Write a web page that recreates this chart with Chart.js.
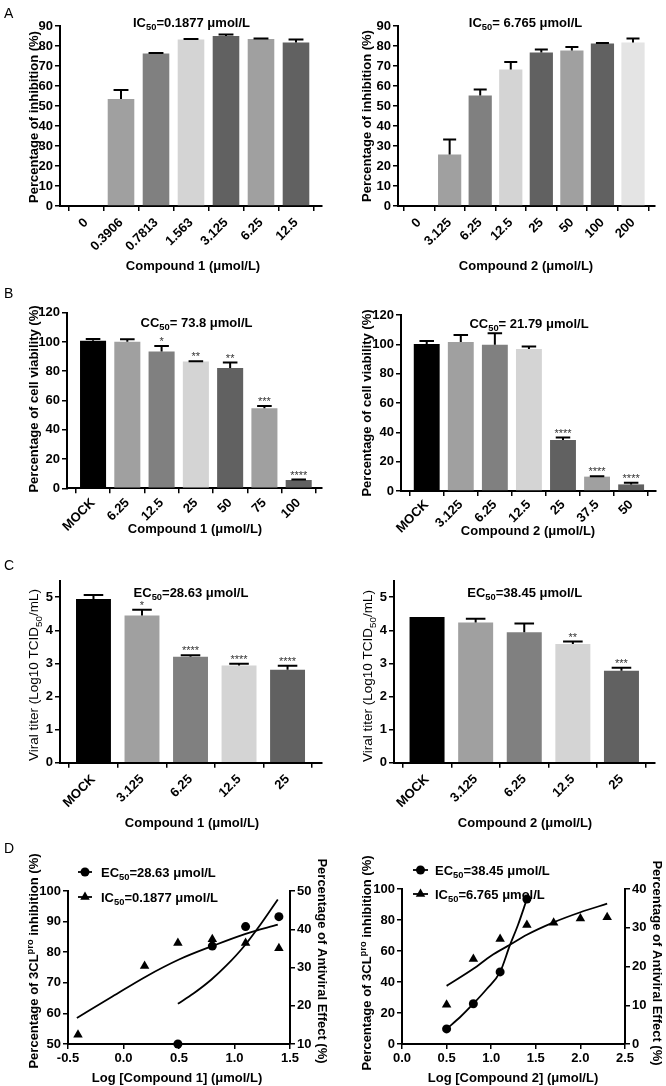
<!DOCTYPE html>
<html><head><meta charset="utf-8">
<script src="https://cdn.jsdelivr.net/npm/chart.js@4/dist/chart.umd.min.js"></script>
<style>
html,body{margin:0;padding:0;background:#fff;}
#page{position:relative;width:666px;height:1086px;overflow:hidden;background:#fff;}
canvas{position:absolute;}
</style></head><body><div id="page"></div>
<script>
// ================= DATA =================
// Panel A – 3CLpro inhibition
const catA1 = ['0','0.3906','0.7813','1.563','3.125','6.25','12.5'];
const valA1 = [0, 53.5, 76.3, 83.3, 85.0, 83.5, 81.8];
const errA1 = [0, 4.5, 0.2, 0.2, 0.8, 0.2, 1.5];
const catA2 = ['0','3.125','6.25','12.5','25','50','100','200'];
const valA2 = [0, 25.8, 55.3, 68.3, 76.8, 77.8, 81.2, 81.8];
const errA2 = [0, 7.5, 3.0, 3.7, 1.5, 1.7, 0.3, 2.0];
// Panel B – cell viability
const catB1 = ['MOCK','6.25','12.5','25','50','75','100'];
const valB1 = [100.9, 100.2, 93.4, 86.6, 82.2, 54.7, 5.7];
const errB1 = [1.1, 1.6, 3.9, 0.3, 3.7, 1.6, 0.3];
const sigB1 = ['', '', '*', '**', '**', '***', '****'];
const catB2 = ['MOCK','3.125','6.25','12.5','25','37.5','50'];
const valB2 = [100.2, 101.6, 99.8, 96.8, 34.8, 9.8, 4.5];
const errB2 = [2.1, 4.8, 7.7, 1.8, 1.6, 0.3, 1.2];
const sigB2 = ['', '', '', '', '****', '****', '****'];
// Panel C – viral titer
const catC1 = ['MOCK','3.125','6.25','12.5','25'];
const valC1 = [4.95, 4.45, 3.20, 2.94, 2.81];
const errC1 = [0.12, 0.17, 0.05, 0.05, 0.12];
const sigC1 = ['', '*', '****', '****', '****'];
const catC2 = ['MOCK','3.125','6.25','12.5','25'];
const valC2 = [4.40, 4.24, 3.94, 3.59, 2.78];
const errC2 = [0, 0.11, 0.27, 0.07, 0.09];
const sigC2 = ['', '', '', '**', '***'];
// Panel D – dose response (log concentration)
const logD1Tri = [-0.41, 0.19, 0.49, 0.80, 1.10, 1.40];
const inhD1 = [53.0, 75.5, 83.0, 84.2, 83.0, 81.3];
const logD1Cir = [0.49, 0.80, 1.10, 1.40];
const antiD1 = [10.0, 35.6, 40.7, 43.3];
const fitInhX1 = [-0.42, -0.1, 0.2, 0.5, 0.8, 1.1, 1.39];
const fitInhY1 = [58.5, 65.5, 72.0, 77.6, 82.0, 86.0, 89.0];
const fitAntX1 = [0.49, 0.63, 0.79, 0.93, 1.09, 1.25, 1.39];
const fitAntY1 = [20.5, 23.2, 26.8, 30.6, 35.7, 41.9, 47.8];

const logD2Tri = [0.5, 0.8, 1.1, 1.4, 1.7, 2.0, 2.3];
const inhD2 = [25.3, 54.8, 67.8, 76.7, 78.2, 81.0, 81.7];
const logD2Cir = [0.5, 0.8, 1.1, 1.4];
const antiD2 = [3.9, 10.4, 18.6, 37.4];
const fitInhX2 = [0.5, 0.8, 1.0, 1.21, 1.4, 1.7, 2.0, 2.3];
const fitInhY2 = [37.5, 48.5, 57.0, 64.0, 70.5, 78.5, 85.0, 90.5];
const fitAntX2 = [0.5, 0.65, 0.8, 0.95, 1.1, 1.21, 1.3, 1.4];
const fitAntY2 = [3.9, 6.9, 10.4, 14.2, 18.6, 25.5, 30.7, 37.4];

// ================= STYLE =================
const FAM = "'Liberation Sans', Arial, Helvetica, sans-serif";
Chart.defaults.font.family = FAM;
Chart.defaults.color = '#000';
const K = '#000000', G1 = '#a0a0a0', G2 = '#808080', G3 = '#d4d4d4', G4 = '#616161', G5 = '#e4e4e4';
const page = document.getElementById('page');

function rich(ctx, segs, x, y, o) {
  const size = o.size || 13, weight = o.weight || 'bold', rot = o.rot || 0, align = o.align || 'center';
  ctx.save();
  ctx.translate(x, y); ctx.rotate(rot);
  ctx.fillStyle = o.color || '#000';
  ctx.textAlign = 'left'; ctx.textBaseline = 'alphabetic';
  const parts = segs.map(s => {
    const small = s[1] === 'sub' || s[1] === 'sup';
    const sz = small ? size * 0.72 : size;
    ctx.font = `${weight} ${sz}px ${FAM}`;
    return { t: s[0], mode: s[1], sz, w: ctx.measureText(s[0]).width };
  });
  const total = parts.reduce((a, p) => a + p.w, 0);
  let cx = align === 'center' ? -total / 2 : align === 'right' ? -total : 0;
  const base = size * 0.36;
  for (const p of parts) {
    ctx.font = `${weight} ${p.sz}px ${FAM}`;
    const dy = p.mode === 'sub' ? size * 0.28 : p.mode === 'sup' ? -size * 0.38 : 0;
    ctx.fillText(p.t, cx, base + dy);
    cx += p.w;
  }
  ctx.restore();
}

function makeCanvas(rect) {
  const cv = document.createElement('canvas');
  cv.width = rect.W; cv.height = rect.H;
  cv.style.left = rect.L + 'px'; cv.style.top = rect.T + 'px';
  cv.style.width = rect.W + 'px'; cv.style.height = rect.H + 'px';
  page.appendChild(cv);
  return cv;
}

const axisGrid = { drawOnChartArea: false, drawTicks: true, tickLength: 5, color: '#000', lineWidth: 1.5 };
const axisBorder = { display: true, color: '#000', width: 2 };
const tickFont = { size: 13, weight: 'bold' };
const rotFont = { size: 13, weight: 'bold' };

function barChart(c) {
  const { rect, plot, cats, vals, errs, sigs, colors, yMax, yStep, xMin, xMax, texts } = c;
  const cv = makeCanvas(rect);
  const extra = {
    id: 'extra',
    afterDatasetsDraw(chart) {
      const ctx = chart.ctx, ys = chart.scales.y;
      chart.getDatasetMeta(0).data.forEach((bar, i) => {
        const v = vals[i]; if (!v) return;
        const e = errs[i] || 0;
        const topY = ys.getPixelForValue(v), capY = ys.getPixelForValue(v + e);
        ctx.save(); ctx.strokeStyle = '#000'; ctx.lineWidth = 2;
        if (e > 0) {
          const cw = bar.width * 0.56;
          ctx.beginPath();
          ctx.moveTo(bar.x, topY); ctx.lineTo(bar.x, capY);
          ctx.moveTo(bar.x - cw / 2, capY); ctx.lineTo(bar.x + cw / 2, capY);
          ctx.stroke();
        }
        if (sigs && sigs[i]) {
          ctx.fillStyle = '#333'; ctx.font = `11px ${FAM}`;
          ctx.textAlign = 'center'; ctx.textBaseline = 'alphabetic';
          ctx.fillText(sigs[i], bar.x, capY - 1);
        }
        ctx.restore();
      });
    },
    afterDraw(chart) { texts.forEach(t => rich(chart.ctx, t.segs, t.x - rect.L, t.y - rect.T, t)); }
  };
  new Chart(cv, {
    type: 'bar',
    data: { datasets: [{
      data: cats.map((cat, i) => ({ x: i, y: vals[i] })),
      backgroundColor: colors, borderWidth: 0,
      barPercentage: c.barPct || 0.76, categoryPercentage: 1
    }] },
    options: {
      responsive: false, animation: false, devicePixelRatio: 1,
      layout: { padding: { left: 0, top: plot.y0 - rect.T, right: rect.L + rect.W - plot.x1, bottom: 0 } },
      plugins: { legend: { display: false }, tooltip: { enabled: false }, title: { display: false } },
      scales: {
        x: {
          type: 'linear', min: xMin, max: xMax, offset: false,
          afterBuildTicks: s => { s.ticks = cats.map((cat, i) => ({ value: i })); },
          ticks: { callback: v => cats[v], minRotation: 45, maxRotation: 45, autoSkip: false, font: rotFont, color: '#000', padding: c.xPad != null ? c.xPad : 3 },
          grid: axisGrid, border: axisBorder,
          afterFit: s => { s.height = rect.T + rect.H - plot.y1; }
        },
        y: {
          min: 0, max: yMax,
          afterBuildTicks: s => { s.ticks = s.ticks.filter(t => Math.abs(t.value / yStep - Math.round(t.value / yStep)) < 1e-6); },
          ticks: { stepSize: yStep, font: tickFont, color: '#000', padding: 2 },
          grid: axisGrid, border: axisBorder,
          afterFit: s => { s.width = plot.x0 - rect.L; }
        }
      }
    },
    plugins: [extra]
  });
}

function tri(ctx, x, y, r) {
  ctx.beginPath();
  let rad = 0;
  ctx.moveTo(x + Math.sin(rad) * r, y - Math.cos(rad) * r);
  rad += Math.PI * 2 / 3; ctx.lineTo(x + Math.sin(rad) * r, y - Math.cos(rad) * r);
  rad += Math.PI * 2 / 3; ctx.lineTo(x + Math.sin(rad) * r, y - Math.cos(rad) * r);
  ctx.closePath(); ctx.fill();
}

function doseChart(c) {
  const { rect, plot, triX, triY, cirX, cirY, fiX, fiY, faX, faY, xMin, xMax, yMin, yMax, yStep, y2Min, y2Max, y2Step, legend, texts } = c;
  const cv = makeCanvas(rect);
  const extra = {
    id: 'extra',
    afterDraw(chart) {
      const ctx = chart.ctx;
      legend.forEach(l => {
        const y = l.y - rect.T, x0 = l.x0 - rect.L, x1 = l.x1 - rect.L;
        ctx.save(); ctx.strokeStyle = '#000'; ctx.fillStyle = '#000'; ctx.lineWidth = 1.8;
        ctx.beginPath(); ctx.moveTo(x0, y); ctx.lineTo(x1, y); ctx.stroke();
        if (l.marker === 'circle') { ctx.beginPath(); ctx.arc((x0 + x1) / 2, y, 4.5, 0, Math.PI * 2); ctx.fill(); }
        else tri(ctx, (x0 + x1) / 2, y, 5.5);
        ctx.restore();
        rich(ctx, l.segs, l.tx - rect.L, y, { size: 13, weight: 'bold', align: 'left' });
      });
      texts.forEach(t => rich(ctx, t.segs, t.x - rect.L, t.y - rect.T, t));
    }
  };
  const pts = (xs, ys) => xs.map((x, i) => ({ x, y: ys[i] }));
  new Chart(cv, {
    type: 'scatter',
    data: { datasets: [
      { data: pts(fiX, fiY), yAxisID: 'y', showLine: true, pointRadius: 0, borderColor: '#000', borderWidth: 1.8, cubicInterpolationMode: 'monotone', tension: 0.4, fill: false },
      { data: pts(faX, faY), yAxisID: 'y2', showLine: true, pointRadius: 0, borderColor: '#000', borderWidth: 1.8, cubicInterpolationMode: 'monotone', tension: 0.4, fill: false },
      { data: pts(triX, triY), yAxisID: 'y', pointStyle: 'triangle', pointRadius: 5.5, backgroundColor: '#000', borderColor: '#000', borderWidth: 0, clip: false },
      { data: pts(cirX, cirY), yAxisID: 'y2', pointStyle: 'circle', pointRadius: 4.5, backgroundColor: '#000', borderColor: '#000', borderWidth: 0, clip: false }
    ] },
    options: {
      responsive: false, animation: false, devicePixelRatio: 1,
      layout: { padding: { left: 0, top: plot.y0 - rect.T, right: 0, bottom: 0 } },
      plugins: { legend: { display: false }, tooltip: { enabled: false }, title: { display: false } },
      scales: {
        x: {
          type: 'linear', min: xMin, max: xMax,
          ticks: { stepSize: 0.5, callback: v => v.toFixed(1), maxRotation: 0, font: tickFont, color: '#000', padding: 2 },
          grid: axisGrid, border: axisBorder,
          afterFit: s => { s.height = rect.T + rect.H - plot.y1; }
        },
        y: {
          position: 'left', min: yMin, max: yMax,
          ticks: { stepSize: yStep, font: tickFont, color: '#000', padding: 2 },
          grid: axisGrid, border: axisBorder,
          afterFit: s => { s.width = plot.x0 - rect.L; }
        },
        y2: {
          position: 'right', min: y2Min, max: y2Max,
          ticks: { stepSize: y2Step, font: tickFont, color: '#000', padding: 2 },
          grid: axisGrid, border: axisBorder,
          afterFit: s => { s.width = rect.L + rect.W - plot.x1; }
        }
      }
    },
    plugins: [extra]
  });
}

const UP = -Math.PI / 2, DOWN = Math.PI / 2;
const mu = 'μmol/L';

// ---- A ----
barChart({
  rect: { L: 0, T: 0, W: 333, H: 280 }, plot: { x0: 60, y0: 26, x1: 322, y1: 206 },
  cats: catA1, vals: valA1, errs: errA1, sigs: null, xPad: 4,
  colors: [G1, G1, G2, G3, G4, G1, G4], yMax: 90, yStep: 10, xMin: -0.743, xMax: 6.743,
  texts: [
    { segs: [['A']], x: 4, y: 13, size: 14, weight: 'normal', align: 'left' },
    { segs: [['IC'], ['50', 'sub'], ['=0.1877 ' + mu]], x: 191.5, y: 22 },
    { segs: [['Percentage of inhibition (%)']], x: 33, y: 117, rot: UP },
    { segs: [['Compound 1 (' + mu + ')']], x: 193, y: 265 }
  ]
});
barChart({
  rect: { L: 333, T: 0, W: 333, H: 280 }, plot: { x0: 398, y0: 26, x1: 655, y1: 206 },
  cats: catA2, vals: valA2, errs: errA2, sigs: null, xPad: 4,
  colors: [G1, G1, G2, G3, G4, G1, G4, G5], yMax: 90, yStep: 10, xMin: -0.69, xMax: 7.72,
  texts: [
    { segs: [['IC'], ['50', 'sub'], ['= 6.765 ' + mu]], x: 525.5, y: 22 },
    { segs: [['Percentage of inhibition (%)']], x: 366, y: 116, rot: UP },
    { segs: [['Compound 2 (' + mu + ')']], x: 526, y: 265 }
  ]
});
// ---- B ----
barChart({
  rect: { L: 0, T: 272, W: 333, H: 270 }, plot: { x0: 67, y0: 312.7, x1: 322, y1: 488.3 },
  cats: catB1, vals: valB1, errs: errB1, sigs: sigB1, xPad: 2,
  colors: [K, G1, G2, G3, G4, G1, G4], yMax: 120, yStep: 20, xMin: -0.76, xMax: 6.68,
  texts: [
    { segs: [['B']], x: 4, y: 293, size: 14, weight: 'normal', align: 'left' },
    { segs: [['CC'], ['50', 'sub'], ['= 73.8 ' + mu]], x: 196.5, y: 322 },
    { segs: [['Percentage of cell viability (%)']], x: 33, y: 399, rot: UP },
    { segs: [['Compound 1 (' + mu + ')']], x: 195, y: 528 }
  ]
});
barChart({
  rect: { L: 333, T: 272, W: 333, H: 270 }, plot: { x0: 401, y0: 315, x1: 656, y1: 491 },
  cats: catB2, vals: valB2, errs: errB2, sigs: sigB2, xPad: 1,
  colors: [K, G1, G2, G3, G4, G1, G4], yMax: 120, yStep: 20, xMin: -0.755, xMax: 6.73,
  texts: [
    { segs: [['CC'], ['50', 'sub'], ['= 21.79 ' + mu]], x: 529, y: 323 },
    { segs: [['Percentage of cell viability (%)']], x: 366, y: 403, rot: UP },
    { segs: [['Compound 2 (' + mu + ')']], x: 528, y: 530 }
  ]
});
// ---- C ----
barChart({
  rect: { L: 0, T: 545, W: 333, H: 290 }, plot: { x0: 60, y0: 580.7, x1: 322, y1: 762.7 },
  cats: catC1, vals: valC1, errs: errC1, sigs: sigC1, xPad: 4,
  colors: [K, G1, G2, G3, G4], yMax: 5.5, yStep: 1, xMin: -0.69, xMax: 4.71, barPct: 0.72,
  texts: [
    { segs: [['C']], x: 4, y: 565, size: 14, weight: 'normal', align: 'left' },
    { segs: [['EC'], ['50', 'sub'], ['=28.63 ' + mu]], x: 191, y: 592 },
    { segs: [['Viral titer (Log10 TCID'], ['50', 'sub'], ['/mL)']], x: 33, y: 675, rot: UP, weight: 'normal', size: 13.5 },
    { segs: [['Compound 1 (' + mu + ')']], x: 192, y: 822 }
  ]
});
barChart({
  rect: { L: 333, T: 545, W: 333, H: 290 }, plot: { x0: 394, y0: 580.7, x1: 655, y1: 762.7 },
  cats: catC2, vals: valC2, errs: errC2, sigs: sigC2, xPad: 4,
  colors: [K, G1, G2, G3, G4], yMax: 5.5, yStep: 1, xMin: -0.68, xMax: 4.69, barPct: 0.72,
  texts: [
    { segs: [['EC'], ['50', 'sub'], ['=38.45 ' + mu]], x: 524.7, y: 592 },
    { segs: [['Viral titer (Log10 TCID'], ['50', 'sub'], ['/mL)']], x: 367, y: 676, rot: UP, weight: 'normal', size: 13.5 },
    { segs: [['Compound 2 (' + mu + ')']], x: 525, y: 822 }
  ]
});
// ---- D ----
doseChart({
  rect: { L: 0, T: 835, W: 333, H: 251 }, plot: { x0: 68, y0: 891, x1: 290, y1: 1044 },
  triX: logD1Tri, triY: inhD1, cirX: logD1Cir, cirY: antiD1,
  fiX: fitInhX1, fiY: fitInhY1, faX: fitAntX1, faY: fitAntY1,
  xMin: -0.5, xMax: 1.5, yMin: 50, yMax: 100, yStep: 10, y2Min: 10, y2Max: 50, y2Step: 10,
  legend: [
    { marker: 'circle', x0: 78, x1: 92, y: 872, tx: 101, segs: [['EC'], ['50', 'sub'], ['=28.63 ' + mu]] },
    { marker: 'triangle', x0: 78, x1: 92, y: 897, tx: 101, segs: [['IC'], ['50', 'sub'], ['=0.1877 ' + mu]] }
  ],
  texts: [
    { segs: [['D']], x: 4, y: 848, size: 14, weight: 'normal', align: 'left' },
    { segs: [['Percentage of 3CL'], ['pro', 'sup'], [' inhibition (%)']], x: 33, y: 961, rot: UP },
    { segs: [['Percentage of Antiviral Effect (%)']], x: 323, y: 961, rot: DOWN },
    { segs: [['Log [Compound 1] (' + mu + ')']], x: 177, y: 1077 }
  ]
});
doseChart({
  rect: { L: 333, T: 835, W: 333, H: 251 }, plot: { x0: 402, y0: 889, x1: 625, y1: 1044 },
  triX: logD2Tri, triY: inhD2, cirX: logD2Cir, cirY: antiD2,
  fiX: fitInhX2, fiY: fitInhY2, faX: fitAntX2, faY: fitAntY2,
  xMin: 0, xMax: 2.5, yMin: 0, yMax: 100, yStep: 20, y2Min: 0, y2Max: 40, y2Step: 10,
  legend: [
    { marker: 'circle', x0: 413, x1: 428, y: 870, tx: 435, segs: [['EC'], ['50', 'sub'], ['=38.45 ' + mu]] },
    { marker: 'triangle', x0: 413, x1: 428, y: 894, tx: 435, segs: [['IC'], ['50', 'sub'], ['=6.765 ' + mu]] }
  ],
  texts: [
    { segs: [['Percentage of 3CL'], ['pro', 'sup'], [' inhibition (%)']], x: 366, y: 963, rot: UP },
    { segs: [['Percentage of Antiviral Effect (%)']], x: 658, y: 963, rot: DOWN },
    { segs: [['Log [Compound 2] (' + mu + ')']], x: 513, y: 1077 }
  ]
});
</script>
</body></html>
